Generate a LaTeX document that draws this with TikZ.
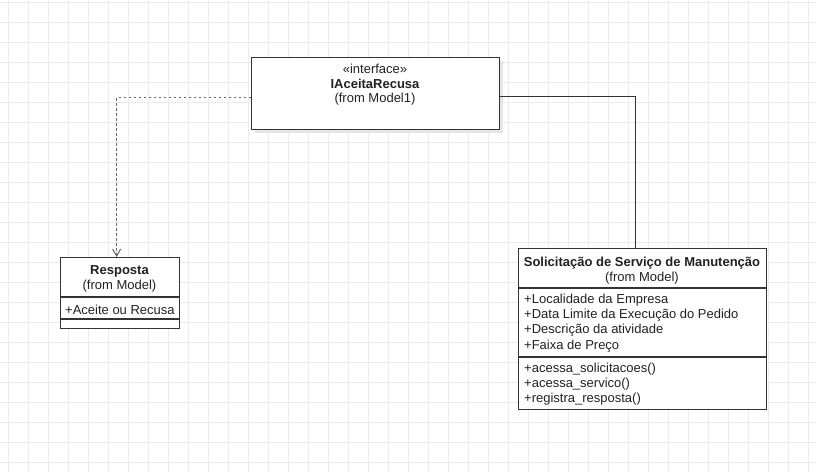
\documentclass[tikz,border=0pt]{standalone}
\usepackage{fontspec}
\setmainfont{Liberation Sans}
\usetikzlibrary{arrows.meta}
\definecolor{gridc}{HTML}{EBEBEB}
\definecolor{linec}{HTML}{333333}
\definecolor{txtc}{HTML}{222222}
\definecolor{dotc}{HTML}{666666}
\definecolor{shadc}{HTML}{E6E6E6}
\begin{document}
\begin{tikzpicture}[x=1pt,y=-1pt,
  gridline/.style={draw=gridc,line width=0.8pt},
  umlbox/.style={draw=linec,line width=1.3pt,fill=white,rectangle,inner sep=0pt,anchor=north west},
  sepline/.style={draw=linec,line width=1.1pt},
  txt/.style={text=txtc,inner sep=0pt,yshift=-1.5pt,font=\fontsize{13}{15}\selectfont},
  btxt/.style={txt,font=\fontsize{13}{15}\selectfont\bfseries},
  ltxt/.style={txt,anchor=west},
  assoc/.style={draw=linec,line width=1.3pt},
  realize/.style={draw=dotc,line width=1.2pt,dash pattern=on 2.5pt off 2.5pt,-{Straight Barb[length=7pt,width=8pt,line width=1pt]}}
]
\useasboundingbox (0,0) rectangle (817,473);
\fill[white] (0,0) rectangle (817,473);
\foreach \x in {8,28,...,808} \draw[gridline] (\x,0) -- (\x,473);
\foreach \y in {2,22,...,462} \draw[gridline] (0,\y) -- (817,\y);

% interface box
\fill[shadc] (255,61) rectangle (503,133);
\node[umlbox,minimum width=248pt,minimum height=72pt] (iface) at (251,57) {};
\node[txt] (istereo) at (375,67.5) {«interface»};
\node[btxt] (iname) at (375,82.5) {IAceitaRecusa};
\node[txt] (ifrom) at (375,98) {(from Model1)};

% Resposta box
\node[umlbox,minimum width=119pt,minimum height=71pt] (resp) at (60,257) {};
\node[btxt] (rname) at (119.5,269.5) {Resposta};
\node[txt] (rfrom) at (119.5,285) {(from Model)};
\coordinate (r1l) at (60,297); \coordinate (r1r) at (179,297);
\coordinate (r2l) at (60,319); \coordinate (r2r) at (179,319);
\draw[sepline] (r1l) -- (r1r);
\draw[sepline] (r2l) -- (r2r);
\node[ltxt] (ratt) at (65,308.5) {+Aceite ou Recusa};

% Solicitacao box
\node[umlbox,minimum width=248pt,minimum height=161pt] (sol) at (518,248) {};
\node[btxt] (sname) at (642,261.5) {Solicitação de Serviço de Manutenção};
\node[txt] (sfrom) at (642,276.5) {(from Model)};
\coordinate (s1l) at (518,288); \coordinate (s1r) at (766,288);
\coordinate (s2l) at (518,357); \coordinate (s2r) at (766,357);
\draw[sepline] (s1l) -- (s1r);
\draw[sepline] (s2l) -- (s2r);
\node[ltxt] (sa1) at (524,299) {+Localidade da Empresa};
\node[ltxt] (sa2) at (524,314) {+Data Limite da Execução do Pedido};
\node[ltxt] (sa3) at (524,329) {+Descrição da atividade};
\node[ltxt] (sa4) at (524,344.5) {+Faixa de Preço};
\node[ltxt] (so1) at (524,368) {+acessa\_solicitacoes()};
\node[ltxt] (so2) at (524,383) {+acessa\_servico()};
\node[ltxt] (so3) at (524,398) {+registra\_resposta()};

% connectors
\draw[assoc] ([yshift=-3pt]iface.east) -| ([xshift=-7pt]sol.north);
\draw[realize] ([yshift=-4pt]iface.west) -| ([xshift=-3.5pt]resp.north);
\end{tikzpicture}
\end{document}
